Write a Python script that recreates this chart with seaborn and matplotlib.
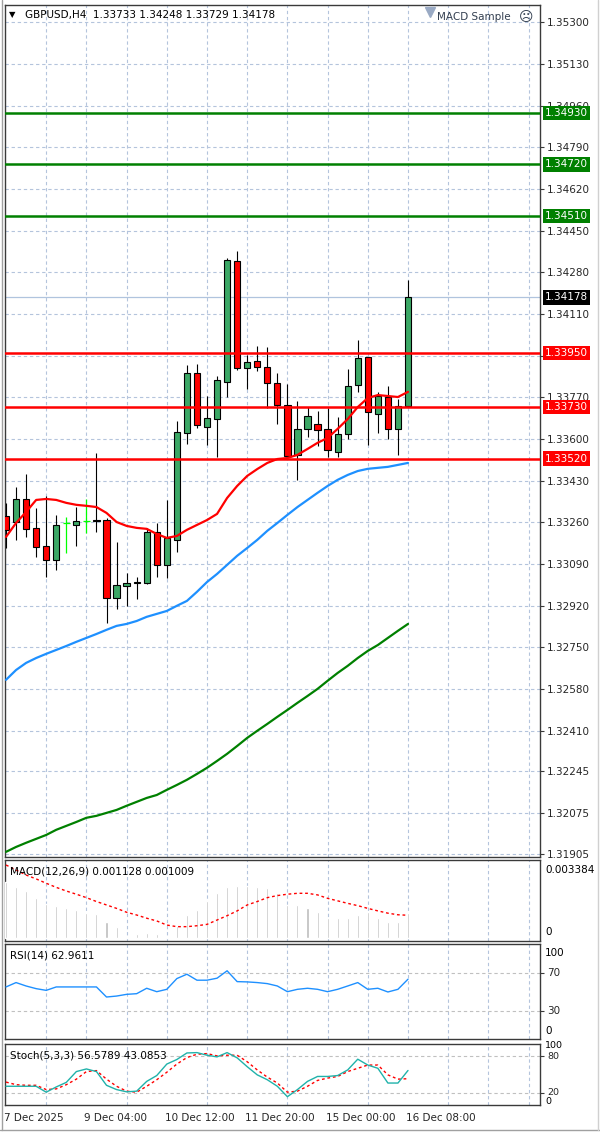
import matplotlib
matplotlib.use("Agg")
import matplotlib.pyplot as plt
import matplotlib.transforms as mtransforms
from matplotlib.lines import Line2D
import numpy as np
import pandas as pd
import seaborn as sns

# ---------------- data ----------------
title_text = "GBPUSD,H4  1.33733 1.34248 1.33729 1.34178"
ea_text = "MACD Sample"

bar_open = [1.33286, 1.33261, 1.33355, 1.33237, 1.33163, 1.33106, 1.33257, 1.33249, 1.33265, 1.33269,
            1.33269, 1.32951, 1.33000, 1.33012, 1.33012, 1.33220, 1.33086, 1.33188, 1.33624, 1.33869,
            1.33649, 1.33681, 1.33832, 1.34326, 1.33890, 1.33918, 1.33894, 1.33828, 1.33739, 1.33535,
            1.33641, 1.33661, 1.33641, 1.33547, 1.33620, 1.33820, 1.33935, 1.33702, 1.33771, 1.33641,
            1.33733]
bar_high = [1.33339, 1.33404, 1.33457, 1.33318, 1.33367, 1.33290, 1.33282, 1.33322, 1.33355, 1.33543,
            1.33277, 1.33180, 1.33053, 1.33037, 1.33237, 1.33257, 1.33351, 1.33673, 1.33902, 1.33906,
            1.33775, 1.33857, 1.34338, 1.34367, 1.33943, 1.33979, 1.33975, 1.33869, 1.33824, 1.33755,
            1.33730, 1.33714, 1.33726, 1.33690, 1.33886, 1.34004, 1.33935, 1.33792, 1.33816, 1.33763,
            1.34248]
bar_low = [1.33155, 1.33188, 1.33200, 1.33118, 1.33037, 1.33065, 1.33135, 1.33163, 1.33216, 1.33220,
           1.32849, 1.32906, 1.32918, 1.32947, 1.33010, 1.33037, 1.33033, 1.33139, 1.33579, 1.33645,
           1.33575, 1.33526, 1.33771, 1.33881, 1.33804, 1.33877, 1.33726, 1.33661, 1.33526, 1.33433,
           1.33608, 1.33571, 1.33526, 1.33526, 1.33600, 1.33792, 1.33575, 1.33624, 1.33600, 1.33535,
           1.33729]
bar_close = [1.33229, 1.33355, 1.33233, 1.33159, 1.33106, 1.33249, 1.33257, 1.33265, 1.33265, 1.33266,
             1.32951, 1.33004, 1.33012, 1.33015, 1.33220, 1.33086, 1.33196, 1.33628, 1.33869, 1.33657,
             1.33686, 1.33841, 1.34330, 1.33890, 1.33914, 1.33894, 1.33828, 1.33739, 1.33530, 1.33641,
             1.33694, 1.33637, 1.33555, 1.33620, 1.33816, 1.33931, 1.33710, 1.33775, 1.33641, 1.33735,
             1.34178]

ma_fast = [1.33200, 1.33257, 1.33302, 1.33351, 1.33355, 1.33351, 1.33339, 1.33331, 1.33327, 1.33322,
           1.33298, 1.33261, 1.33245, 1.33237, 1.33233, 1.33212, 1.33196, 1.33204, 1.33229, 1.33249,
           1.33269, 1.33294, 1.33359, 1.33408, 1.33449, 1.33477, 1.33502, 1.33518, 1.33522, 1.33535,
           1.33559, 1.33584, 1.33604, 1.33641, 1.33681, 1.33730, 1.33767, 1.33779, 1.33775, 1.33771,
           1.33792]
ma_mid = [1.32617, 1.32657, 1.32686, 1.32706, 1.32723, 1.32739, 1.32755, 1.32772, 1.32788, 1.32804,
          1.32821, 1.32837, 1.32845, 1.32857, 1.32874, 1.32886, 1.32898, 1.32919, 1.32939, 1.32976,
          1.33016, 1.33049, 1.33086, 1.33123, 1.33155, 1.33188, 1.33225, 1.33257, 1.33290, 1.33322,
          1.33351, 1.33380, 1.33408, 1.33433, 1.33453, 1.33469, 1.33478, 1.33482, 1.33486, 1.33494,
          1.33502]
ma_slow = [1.31915, 1.31935, 1.31952, 1.31968, 1.31984, 1.32005, 1.32021, 1.32037, 1.32054, 1.32062,
           1.32074, 1.32086, 1.32103, 1.32119, 1.32135, 1.32147, 1.32168, 1.32188, 1.32209, 1.32233,
           1.32258, 1.32286, 1.32315, 1.32347, 1.32380, 1.32409, 1.32437, 1.32466, 1.32494, 1.32523,
           1.32551, 1.32580, 1.32613, 1.32645, 1.32674, 1.32706, 1.32735, 1.32759, 1.32788, 1.32817,
           1.32845]

macd_main = [0.00245, 0.00226, 0.00207, 0.00178, 0.00150, 0.00142, 0.00131, 0.00124, 0.00112, 0.00105,
             0.00073, 0.00051, 0.00007, 0.00018, 0.00022, 0.00018, 0.00003, 0.00055, 0.00102, 0.00124,
             0.00164, 0.00200, 0.00225, 0.00228, 0.00228, 0.00226, 0.00220, 0.00200, 0.00146, 0.00146,
             0.00131, 0.00117, 0.00088, 0.00088, 0.00091, 0.00102, 0.00117, 0.00091, 0.00073, 0.00073,
             0.001128]
macd_signal = [0.00321, 0.00299, 0.00277, 0.00260, 0.00241, 0.00223, 0.00207, 0.00193, 0.00178, 0.00161,
               0.00146, 0.00131, 0.00114, 0.00102, 0.00088, 0.00076, 0.00058, 0.00051, 0.00051, 0.00055,
               0.00061, 0.00080, 0.00099, 0.00120, 0.00146, 0.00161, 0.00178, 0.00187, 0.00193, 0.00197,
               0.00197, 0.00190, 0.00175, 0.00164, 0.00153, 0.00143, 0.00131, 0.00120, 0.00110, 0.00103,
               0.001009]
rsi_values = [54.8, 59.4, 55.8, 53.0, 51.2, 54.8, 54.8, 54.8, 54.8, 54.8,
              44.2, 45.2, 47.0, 47.7, 53.4, 49.8, 52.3, 63.6, 68.2, 61.9,
              61.9, 64.0, 71.8, 60.4, 60.1, 59.4, 58.3, 55.8, 49.8, 52.3,
              53.4, 52.3, 49.8, 52.3, 55.8, 59.4, 52.3, 53.4, 49.5, 52.3,
              62.96]
stoch_main = [30.7, 30.7, 30.7, 30.7, 21.0, 29.6, 37.1, 54.8, 59.1, 54.8,
              32.3, 25.3, 21.6, 22.7, 38.7, 48.3, 67.1, 74.6, 85.3, 85.9,
              81.6, 78.9, 85.9, 77.3, 62.8, 49.4, 41.4, 30.7, 13.6, 25.3,
              38.7, 46.8, 46.8, 48.3, 57.5, 75.1, 65.5, 60.2, 36.0, 36.0,
              56.58]
stoch_signal = [37.6, 33.3, 32.3, 32.3, 25.3, 26.4, 33.3, 42.4, 54.8, 56.4,
                42.4, 30.7, 22.7, 21.0, 30.7, 41.4, 53.7, 67.1, 77.8, 83.2,
                84.3, 80.5, 81.6, 81.6, 70.9, 57.5, 45.7, 36.0, 21.0, 22.7,
                30.7, 40.3, 44.1, 46.8, 54.8, 60.2, 65.5, 65.5, 49.4, 42.4,
                43.09]

resistance_levels = [1.34930, 1.34720, 1.34510]
support_levels = [1.33950, 1.33730, 1.33520]
current_price = 1.34178
price_ticks = [1.35300, 1.35130, 1.34960, 1.34790, 1.34620, 1.34450, 1.34280, 1.34110, 1.33940,
               1.33770, 1.33600, 1.33430, 1.33260, 1.33090, 1.32920, 1.32750, 1.32580, 1.32410,
               1.32245, 1.32075, 1.31905]
hidden_price_ticks = [1.33940]  # fully covered by the 1.33950 level label in the reference
date_labels = ["7 Dec 2025", "9 Dec 04:00", "10 Dec 12:00", "11 Dec 20:00", "15 Dec 00:00", "16 Dec 08:00"]
date_label_bars = [0, 8, 16, 24, 32, 40]
macd_label = "MACD(12,26,9) 0.001128 0.001009"
macd_scale_labels = ["0.003384", "0"]
rsi_label = "RSI(14) 62.9611"
rsi_levels = [70, 30]
stoch_label = "Stoch(5,3,3) 56.5789 43.0853"
stoch_levels = [80, 20]

# ---------------- style ----------------
sns.set_style("white")
plt.rcParams['font.family'] = ['DejaVu Sans']
FS = 7.5
GRID_C = '#B4C4DC'
SPINE_C = '#3A3A3A'
BULL = '#3CA866'
BEAR = '#FF0000'

W, H = 600, 1136
fig = plt.figure(figsize=(W / 100, H / 100), dpi=100, facecolor='white')
L_PX, R_PX = 5, 540
PX_PER_BAR = 10.05
X0_PX = 6
xlim = ((L_PX - X0_PX) / PX_PER_BAR, (R_PX - X0_PX) / PX_PER_BAR)


def add_panel(top, bottom):
    return fig.add_axes([L_PX / W, 1 - bottom / H, (R_PX - L_PX) / W, (bottom - top) / H])


def style_panel(ax):
    ax.set_xlim(*xlim)
    for s in ax.spines.values():
        s.set_color(SPINE_C)
        s.set_linewidth(1.0)
    ax.set_xticks(np.arange(4, 53, 4), minor=True)
    ax.set_xticks([])
    ax.grid(True, which='minor', axis='x', color=GRID_C, linestyle=(0, (3, 2.5)), linewidth=0.8)
    ax.tick_params(axis='x', which='both', length=0, labelbottom=False)
    ax.set_xlabel('')
    ax.set_ylabel('')
    ax.set_facecolor('white')


def ftext(x_px, y_px, s, **kw):
    kw.setdefault('fontsize', FS)
    kw.setdefault('va', 'center')
    return fig.text(x_px / W, 1 - y_px / H, s, **kw)


n = len(bar_close)
bars = np.arange(n)
df = pd.DataFrame({"bar": bars, "open": bar_open, "high": bar_high, "low": bar_low, "close": bar_close})

# ---------------- main price panel ----------------
ax = add_panel(5, 857)
style_panel(ax)
ax.set_ylim(1.31894, 1.353706)
ax.yaxis.tick_right()
ax.set_yticks(price_ticks)
ax.set_yticklabels(["" if v in hidden_price_ticks else f"{v:.5f}" for v in price_ticks])
ax.tick_params(axis='y', which='major', length=3, width=0.8, color=SPINE_C, labelsize=FS, pad=2)
ax.grid(True, which='major', axis='y', color=GRID_C, linestyle=(0, (3, 2.5)), linewidth=0.8)

doji = df.close == df.open
bull = df.close > df.open
bear = df.close < df.open
nd = df[~doji]
ax.vlines(nd.bar, nd.low, nd.high, color='black', linewidth=0.8, zorder=3)
dj = df[doji]
ax.vlines(dj.bar, dj.low, dj.high, color='#00FF00', linewidth=0.9, zorder=3)
ax.hlines(dj.close, dj.bar - 0.35, dj.bar + 0.35, color='#00FF00', linewidth=0.9, zorder=3)
b = df[bull]
ax.bar(b.bar, b.close - b.open, bottom=b.open, width=0.62, color=BULL, edgecolor='black',
       linewidth=0.8, zorder=4)
r = df[bear]
ax.bar(r.bar, r.open - r.close, bottom=r.close, width=0.62, color=BEAR, edgecolor='black',
       linewidth=0.8, zorder=4)

sns.lineplot(x=bars, y=ma_slow, ax=ax, color='#008000', linewidth=1.6, zorder=5)
sns.lineplot(x=bars, y=ma_mid, ax=ax, color='#1E90FF', linewidth=1.6, zorder=5)
sns.lineplot(x=bars, y=ma_fast, ax=ax, color='#FF0000', linewidth=1.6, zorder=6)

ax.axhline(current_price, color='#B0C4DE', linewidth=0.9, zorder=2)
for lv in resistance_levels:
    ax.axhline(lv, color='#008000', linewidth=1.8, zorder=7)
for lv in support_levels:
    ax.axhline(lv, color='#FF0000', linewidth=1.8, zorder=7)

lbl_tr = mtransforms.blended_transform_factory(ax.transAxes, ax.transData)
lbl_x = 1 + 5 / (R_PX - L_PX)


def price_box(val, fc):
    ax.text(lbl_x, val, f"{val:.5f}", transform=lbl_tr, color='white', fontsize=FS, va='center',
            ha='left', zorder=20, clip_on=False,
            bbox=dict(boxstyle='square,pad=0.22', fc=fc, ec='none'))


for lv in resistance_levels:
    price_box(lv, '#008000')
for lv in support_levels:
    price_box(lv, '#FF0000')
price_box(current_price, 'black')

# header texts
ftext(12, 15, '▼', fontsize=6, ha='center', color='black')
ftext(25, 15, title_text, ha='left', color='black')
ftext(437, 17, ea_text, ha='left', color='#333F50')
ftext(526, 17, '☹', ha='center', fontsize=10, color='#333F50')
ax.plot([(430 - X0_PX) / PX_PER_BAR], [0.992], transform=mtransforms.blended_transform_factory(ax.transData, ax.transAxes),
        marker='v', markersize=7, color='#9AAAC4', linestyle='none', clip_on=False, zorder=10)

# ---------------- MACD panel ----------------
axm = add_panel(860, 941)
style_panel(axm)
axm.set_ylim(-0.000118, 0.003428)
axm.set_yticks([])
axm.bar(bars, macd_main, width=0.2, color='#BDBDBD', zorder=3)
sns.lineplot(x=bars, y=macd_signal, ax=axm, color='#FF0000', linewidth=1.0, linestyle=(0, (2, 2)), zorder=4)
axm.set_xlim(*xlim)
ftext(10, 871, macd_label, ha='left', color='black')
ftext(545, 870, macd_scale_labels[0], ha='left', color='black')
ftext(545, 932, macd_scale_labels[1], ha='left', color='black')

# ---------------- RSI panel ----------------
axr = add_panel(944, 1039)
style_panel(axr)
axr.set_ylim(0, 100)
axr.yaxis.tick_right()
axr.set_yticks(rsi_levels)
axr.set_yticklabels([str(v) for v in rsi_levels])
axr.tick_params(axis='y', length=3, width=0.8, color=SPINE_C, labelsize=FS, pad=2)
for lv in rsi_levels:
    axr.axhline(lv, color='#C0C0C0', linestyle=(0, (3, 2.5)), linewidth=0.8, zorder=1)
sns.lineplot(x=bars, y=rsi_values, ax=axr, color='#1E90FF', linewidth=1.0, zorder=4)
axr.set_xlim(*xlim)
axr.set_ylim(0, 100)
ftext(10, 956, rsi_label, ha='left', color='black')
ftext(545, 953, "100", ha='left', color='black')
ftext(545, 1031, "0", ha='left', color='black')

# ---------------- Stochastic panel ----------------
SFS = 6.8
axs = add_panel(1044, 1105)
style_panel(axs)
axs.set_ylim(0, 100)
axs.yaxis.tick_right()
axs.set_yticks(stoch_levels)
axs.set_yticklabels([str(v) for v in stoch_levels])
axs.tick_params(axis='y', length=3, width=0.8, color=SPINE_C, labelsize=SFS, pad=2)
for t in axs.get_yticklabels():
    t.set_verticalalignment('center')
for lv in stoch_levels:
    axs.axhline(lv, color='#C0C0C0', linestyle=(0, (3, 2.5)), linewidth=0.8, zorder=1)
sns.lineplot(x=bars, y=stoch_signal, ax=axs, color='#FF0000', linewidth=1.0, linestyle=(0, (2, 2)), zorder=4)
sns.lineplot(x=bars, y=stoch_main, ax=axs, color='#20B2AA', linewidth=1.0, zorder=5)
axs.set_xlim(*xlim)
axs.set_ylim(0, 100)
ftext(10, 1056, stoch_label, ha='left', color='black')
ftext(545, 1046, "100", ha='left', color='black', fontsize=SFS)
ftext(545, 1102, "0", ha='left', color='black', fontsize=SFS)

axs.set_xticks(date_label_bars)
axs.set_xticklabels(date_labels, ha='left')
axs.tick_params(axis='x', which='major', length=3, width=0.8, color=SPINE_C, labelbottom=True,
                labelsize=FS, pad=3)
for t in axs.get_xticklabels():
    t.set_horizontalalignment('left')
    t.set_transform(t.get_transform() + mtransforms.ScaledTranslation(-2 / 100, 0, fig.dpi_scale_trans))

# ---------------- window frame ----------------
fig.add_artist(Line2D([1.5 / W, 1.5 / W], [1 - 1130 / H, 1], transform=fig.transFigure, color='#A0A0A0', linewidth=1))
fig.add_artist(Line2D([0, 1], [1 - 1130 / H, 1 - 1130 / H], transform=fig.transFigure, color='#A0A0A0', linewidth=1))
fig.add_artist(Line2D([597.5 / W, 597.5 / W], [1 - 1130 / H, 1], transform=fig.transFigure, color='#D0D0D0', linewidth=1))

fig.savefig("out.png", dpi=100, facecolor='white')
